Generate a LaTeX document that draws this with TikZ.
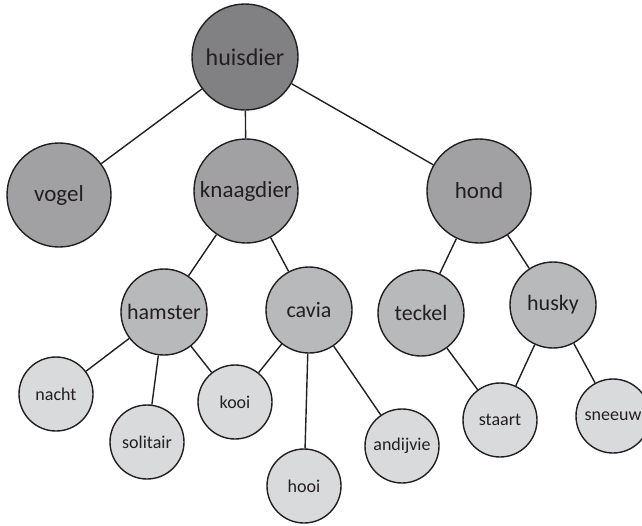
\documentclass[tikz,border=0pt]{standalone}
\usepackage{fontspec}
\setmainfont{Carlito}
\usepackage{tikz}
\usetikzlibrary{positioning}
\definecolor{inkline}{HTML}{231F20}
\definecolor{rootgray}{HTML}{818184}
\definecolor{midgray}{HTML}{A1A1A4}
\definecolor{lowgray}{HTML}{B8B9BB}
\definecolor{leafgray}{HTML}{D9DADC}
\tikzset{
  every node/.style={circle,draw=inkline,line width=1.4pt,inner sep=0pt,text=inkline},
  rootnode/.style={fill=rootgray,minimum size=106pt,font=\fontsize{24}{28}\selectfont},
  midnode/.style={fill=midgray,minimum size=104pt,font=\fontsize{23}{27}\selectfont},
  lownode/.style={fill=lowgray,minimum size=86pt,font=\fontsize{22}{26}\selectfont},
  leafnode/.style={fill=leafgray,minimum size=74pt,font=\fontsize{18}{22}\selectfont},
  link/.style={draw=inkline,line width=1.4pt}
}
\begin{document}
\begin{tikzpicture}[x=1pt,y=-1pt]
      \useasboundingbox (0,0) rectangle (642,525);
      % top
      \node [rootnode] (huisdier) at (245,57) {huisdier};
      % second row
      \node [midnode] (vogel) at (59,195) {vogel};
      \node [midnode] (knaagdier) at (246,191) {knaagdier};
      \node [midnode] (hond) at (479,191) {hond};
      % third row
      \node [lownode] (hamster) at (164,312) {hamster};
      \node [lownode] (cavia) at (309,310) {cavia};
      \node [lownode] (teckel) at (421,313) {teckel};
      \node [lownode] (husky) at (553,305) {husky};
      % leaves
      \node [leafnode] (nacht) at (56,394) {nacht};
      \node [leafnode] (solitair) at (147,442) {solitair};
      \node [leafnode] (kooi) at (235,402) {kooi};
      \node [leafnode] (hooi) at (304,486) {hooi};
      \node [leafnode] (andijvie) at (402,446) {andijvie};
      \node [leafnode] (staart) at (500,420) {staart};
      \node [leafnode] (sneeuw) at (613,416) {sneeuw};
      % links
      \draw [link] (huisdier) -- (vogel);
      \draw [link] (huisdier) -- (knaagdier);
      \draw [link] (huisdier) -- (hond);
      \draw [link] (knaagdier) -- (hamster);
      \draw [link] (knaagdier) -- (cavia);
      \draw [link] (hond) -- (teckel);
      \draw [link] (hond) -- (husky);
      \draw [link] (hamster) -- (nacht);
      \draw [link] (hamster) -- (solitair);
      \draw [link] (hamster) -- (kooi);
      \draw [link] (cavia) -- (kooi);
      \draw [link] (cavia) -- (hooi);
      \draw [link] (cavia) -- (andijvie);
      \draw [link] (teckel) -- (staart);
      \draw [link] (husky) -- (staart);
      \draw [link] (husky) -- (sneeuw);
    \end{tikzpicture}
\end{document}
